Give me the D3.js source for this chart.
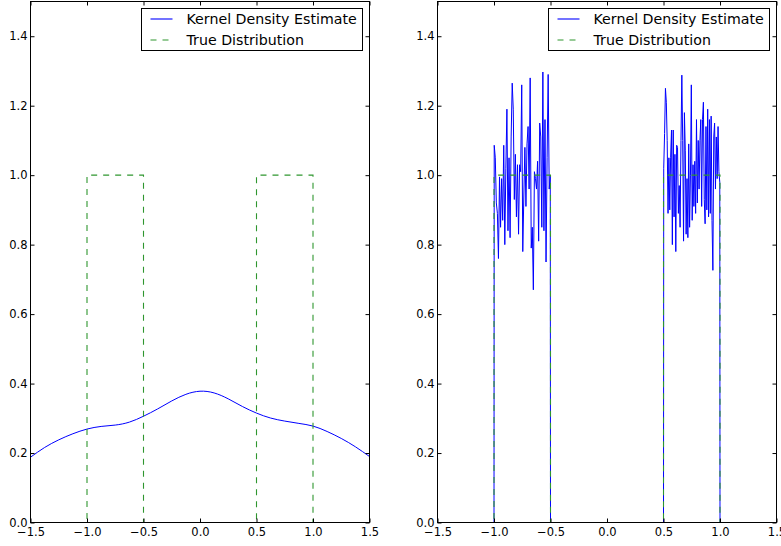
<!DOCTYPE html>
<html>
<head>
<meta charset="utf-8">
<script src="https://cdn.jsdelivr.net/npm/d3@7"></script>
<style>
  body { margin: 0; background: #fff; }
  svg { display: block; }
  text { font-family: "DejaVu Sans", sans-serif; fill: #000; }
</style>
</head>
<body>
<svg id="viz" width="781" height="546"></svg>
<script>
var width = 781;
var height = 546;

// tick labels
const xTicks = [-1.5, -1.0, -0.5, 0.0, 0.5, 1.0, 1.5];
const yTicks = [0.0, 0.2, 0.4, 0.6, 0.8, 1.0, 1.2, 1.4];

// true distribution (two boxes)
const trueX = [-1.5, -1.0, -1.0, -0.5, -0.5, 0.5, 0.5, 1.0, 1.0, 1.5];
const trueY = [0, 0, 1, 1, 0, 0, 1, 1, 0, 0];

// wide bandwidth KDE (left panel)
const wideX = [-1.5, -1.375, -1.25, -1.125, -1.0, -0.875, -0.75, -0.625, -0.5, -0.375, -0.25, -0.125,
               0.0, 0.125, 0.25, 0.375, 0.5, 0.625, 0.75, 0.875, 1.0, 1.125, 1.25, 1.375, 1.5];
const wideY = [0.188, 0.216, 0.238, 0.2555, 0.269, 0.2766, 0.2805, 0.289, 0.306, 0.327, 0.35, 0.369,
               0.378, 0.373, 0.356, 0.334, 0.315, 0.3007, 0.292, 0.2853, 0.2776, 0.262, 0.242, 0.218, 0.19];

// narrow bandwidth KDE (right panel), values read across each box
const narrowLeftRange = [-0.998, -0.502];
const narrowLeftY = [1.086, 1.05, 0.92, 0.89, 0.76, 0.995, 0.85, 0.99, 0.87, 1.086, 0.80, 1.02, 1.19, 0.84,
                     1.05, 0.82, 1.11, 1.265, 1.19, 0.93, 1.06, 0.88, 1.03, 0.83, 1.03, 1.01, 1.26, 0.78,
                     0.94, 1.08, 0.91, 1.09, 1.14, 0.96, 1.28, 0.79, 0.85, 0.67, 1.01, 0.99, 0.96, 1.04,
                     0.81, 1.15, 1.11, 0.85, 1.297, 0.84, 1.16, 0.75, 1.05, 1.29, 0.96, 1.0];
const narrowRightRange = [0.502, 0.998];
const narrowRightY = [1.02, 1.12, 1.25, 1.21, 1.10, 0.89, 1.05, 0.90, 1.05, 1.13, 0.80, 1.13, 0.88, 1.06,
                      0.78, 1.086, 1.08, 0.89, 0.97, 0.85, 1.10, 1.288, 1.10, 0.81, 1.18, 1.07, 0.83, 0.99,
                      0.82, 1.09, 0.85, 1.0, 1.26, 0.87, 1.03, 0.91, 1.04, 0.89, 1.16, 0.92, 1.10, 0.96,
                      1.10, 1.16, 0.91, 1.16, 1.21, 0.93, 0.86, 1.14, 0.90, 1.19, 0.88, 1.16, 0.89, 1.17,
                      0.87, 0.726, 1.11, 1.15, 0.96, 1.11, 0.99, 1.14, 1.01, 0.98];

const legendLabels = ["Kernel Density Estimate", "True Distribution"];

const BLUE = "#0000ff", GREEN = "#2f962f";

function spread(range, vals) {
	let n = vals.length;
	return vals.map(function (v, i) {
		return [range[0] + (range[1] - range[0]) * i / (n - 1), v];
	});
}

let narrowPts = [[-1.5, 0], [-1.0, 0]]
	.concat(spread(narrowLeftRange, narrowLeftY))
	.concat([[-0.5, 0], [0.5, 0]])
	.concat(spread(narrowRightRange, narrowRightY))
	.concat([[1.0, 0], [1.5, 0]]);

let widePts = wideX.map(function (x, i) { return [x, wideY[i]]; });
let truePts = trueX.map(function (x, i) { return [x, trueY[i]]; });

let svg = d3.select("#viz");
let fmt = d3.format(".1f");

function drawPanel(left, right, kde, curve) {
	let top = 1.5, bottom = 522.5;
	let x = d3.scaleLinear().domain([-1.5, 1.5]).range([left, right]);
	let y = d3.scaleLinear().domain([0, 1.5]).range([bottom, top]);
	let g = svg.append("g");

	let line = d3.line()
		.x(function (d) { return x(d[0]); })
		.y(function (d) { return y(d[1]); });

	g.append("path")
		.datum(kde)
		.attr("fill", "none")
		.attr("stroke", BLUE)
		.attr("stroke-width", 1)
		.attr("d", line.curve(curve));

	g.append("path")
		.datum(truePts)
		.attr("fill", "none")
		.attr("stroke", GREEN)
		.attr("stroke-width", 1.1)
		.attr("stroke-dasharray", "6,6")
		.attr("d", line.curve(d3.curveLinear));

	// axes with inward ticks
	let ax = g.append("g").attr("transform", "translate(0," + bottom + ")")
		.call(d3.axisBottom(x).tickValues(xTicks).tickFormat(fmt).tickSize(-4).tickPadding(5));
	g.append("g").attr("transform", "translate(0," + top + ")")
		.call(d3.axisTop(x).tickValues(xTicks).tickFormat("").tickSize(-4));
	let ay = g.append("g").attr("transform", "translate(" + left + ",0)")
		.call(d3.axisLeft(y).tickValues(yTicks).tickFormat(fmt).tickSize(-4).tickPadding(3));
	g.append("g").attr("transform", "translate(" + right + ",0)")
		.call(d3.axisRight(y).tickValues(yTicks).tickFormat("").tickSize(-4));
	g.selectAll(".domain").remove();
	g.selectAll(".tick line").attr("stroke", "#000");
	g.selectAll(".tick text").attr("font-family", "DejaVu Sans").attr("font-size", 11.5).attr("fill", "#000");
	ax.selectAll(".tick text").attr("dy", "0.75em");

	g.append("rect")
		.attr("x", left).attr("y", top)
		.attr("width", right - left).attr("height", bottom - top)
		.attr("fill", "none").attr("stroke", "#000").attr("stroke-width", 1);

	// legend
	let lx = left + 111, ly = 8.5;
	let leg = g.append("g").attr("transform", "translate(" + lx + "," + ly + ")");
	leg.append("rect")
		.attr("width", 221).attr("height", 42)
		.attr("fill", "#fff").attr("stroke", "#000").attr("stroke-width", 1);
	legendLabels.forEach(function (lab, i) {
		let ry = 10.5 + i * 21;
		leg.append("line")
			.attr("x1", 9).attr("x2", 31).attr("y1", ry).attr("y2", ry)
			.attr("stroke", i === 0 ? BLUE : GREEN)
			.attr("stroke-width", 1.1)
			.attr("stroke-dasharray", i === 0 ? null : "6,6");
		leg.append("text")
			.attr("x", 45).attr("y", ry).attr("dy", "0.36em")
			.attr("font-size", 14.2)
			.text(lab);
	});
}

drawPanel(30.5, 369.5, widePts, d3.curveNatural);
drawPanel(437.5, 776.5, narrowPts, d3.curveLinear);
</script>
</body>
</html>
